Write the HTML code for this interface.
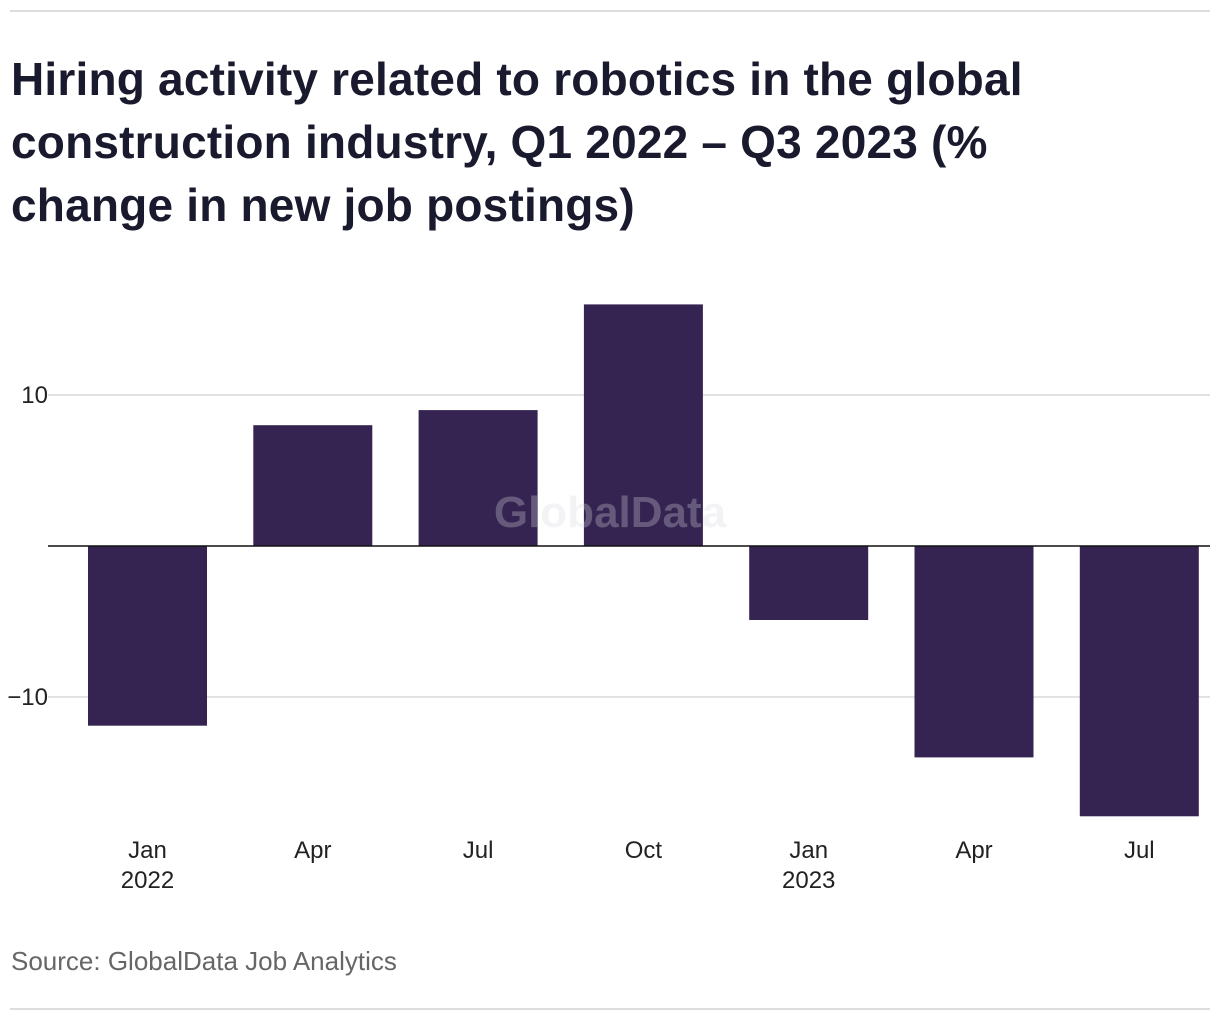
<!DOCTYPE html>
<html><head><meta charset="utf-8"><style>
body{margin:0;background:#fff;width:1220px;height:1020px;overflow:hidden;font-family:"Liberation Sans",sans-serif;}
.rule{position:absolute;left:10px;width:1200px;height:2px;background:#ddd;}
#title{position:absolute;left:11px;top:48px;font-size:46px;font-weight:bold;line-height:63px;color:#1a1a2e;margin:0;letter-spacing:0.2px;white-space:nowrap;}
#source{position:absolute;left:11px;top:946px;font-size:26px;color:#666;}
svg{position:absolute;left:0;top:0;}
</style></head><body>
<div class="rule" style="top:10px"></div>
<h1 id="title">Hiring activity related to robotics in the global<br>construction industry, Q1 2022 – Q3 2023 (%<br>change in new job postings)</h1>
<svg id="chart" width="1220" height="1020"></svg>
<div id="source">Source: GlobalData Job Analytics</div>
<div class="rule" style="top:1008px"></div>
<script>
const categories=["Jan|2022","Apr","Jul","Oct","Jan|2023","Apr","Jul"];
const values=[-11.9,8.0,9.0,16.0,-4.9,-14.0,-17.9];
const tickValues=[10,-10];
const tickLabels=["10","−10"];
const NS="http://www.w3.org/2000/svg";
const svg=document.getElementById('chart');
const y0=546,pxPerUnit=15.1;
const y=v=>y0-v*pxPerUnit;
const x=i=>147.5+i*165.3;
const bw=119;
function mk(t,a){const e=document.createElementNS(NS,t);for(const k in a)e.setAttribute(k,a[k]);svg.appendChild(e);return e;}
tickValues.forEach((v,i)=>{
 const g=mk('line',{x1:48,x2:1210,y1:y(v),y2:y(v),stroke:'#d9d9d9','stroke-width':1.5});
 
 
 const t=mk('text',{x:48,y:y(v)+8,'text-anchor':'end','font-size':24,fill:'#222','font-family':'Liberation Sans, sans-serif'});
 t.textContent=tickLabels[i];
 
 
});
values.forEach((v,i)=>{
 const top=Math.min(y(v),y0),h=Math.abs(y(v)-y0);
 const r=mk('rect',{x:x(i)-bw/2,y:top,width:bw,height:h,fill:'#352451'});
 
 
 categories[i].split('|').forEach((s,j)=>{
  const t=mk('text',{x:x(i),y:858+j*30,'text-anchor':'middle','font-size':24,fill:'#222','font-family':'Liberation Sans, sans-serif'});
  t.textContent=s;
  
  
 });
});
const wm=mk('text',{x:610,y:527,'text-anchor':'middle','font-size':44,'font-weight':'bold',fill:'#d8d8e0','fill-opacity':0.3,'font-family':'Liberation Sans, sans-serif'});
wm.textContent='GlobalData';


const z=mk('line',{x1:48,x2:1210,y1:y0,y2:y0,stroke:'#111','stroke-width':1.5});


</script>
</body></html>
